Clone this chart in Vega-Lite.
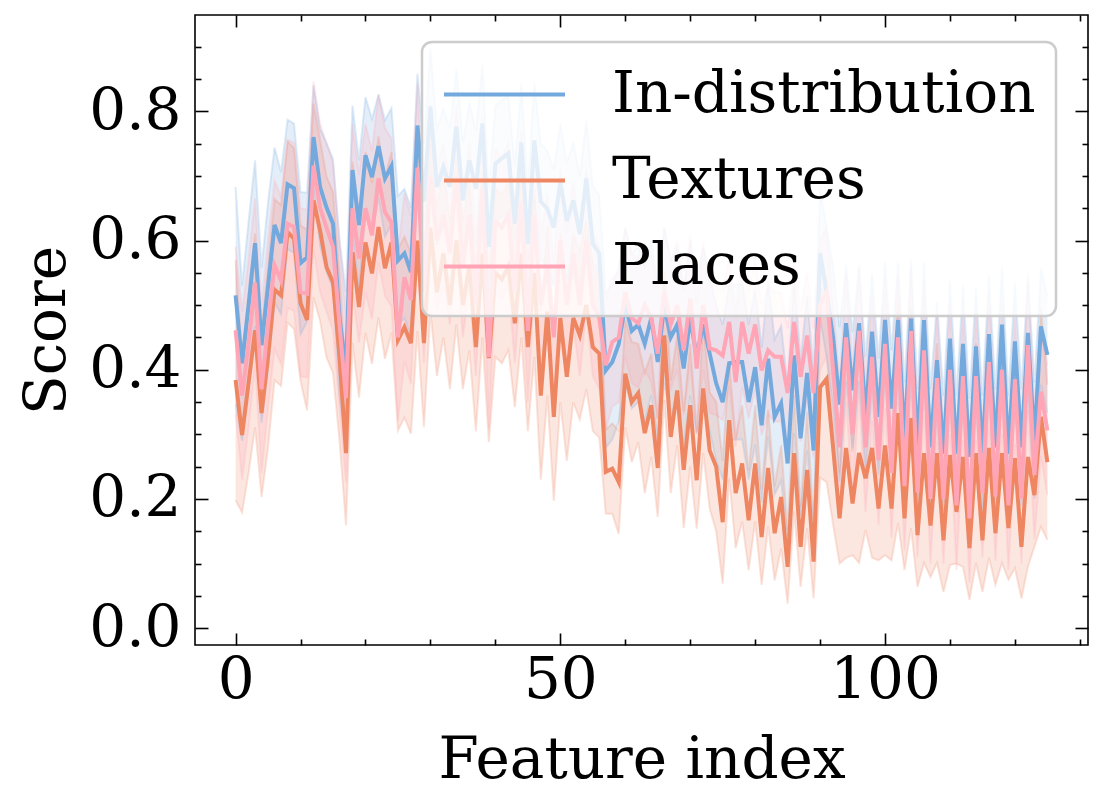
{
  "$schema": "https://vega.github.io/schema/vega-lite/v6.json",
  "width": 893,
  "height": 630,
  "autosize": {"type": "none"},
  "padding": {"left": 195, "top": 15, "right": 16, "bottom": 159},
  "background": "white",
  "config": {
    "font": "DejaVu Serif",
    "view": {"stroke": "black", "strokeWidth": 1.6},
    "axis": {
      "domain": false,
      "grid": false,
      "labelFont": "DejaVu Serif",
      "labelFontSize": 58,
      "labelColor": "black",
      "titleFont": "DejaVu Serif",
      "titleFontSize": 58,
      "titleFontWeight": "normal",
      "titleColor": "black",
      "tickColor": "black",
      "tickWidth": 1.6
    }
  },
  "data": {
    "values": [
      {"i":0,"s":"In-distribution","m":0.515,"e":0.168},{"i":1,"s":"In-distribution","m":0.41,"e":0.12},{"i":2,"s":"In-distribution","m":0.5,"e":0.13},{"i":3,"s":"In-distribution","m":0.596,"e":0.128},{"i":4,"s":"In-distribution","m":0.438,"e":0.12},{"i":5,"s":"In-distribution","m":0.53,"e":0.13},{"i":6,"s":"In-distribution","m":0.624,"e":0.12},{"i":7,"s":"In-distribution","m":0.596,"e":0.11},{"i":8,"s":"In-distribution","m":0.687,"e":0.1},{"i":9,"s":"In-distribution","m":0.681,"e":0.1},
      {"i":10,"s":"In-distribution","m":0.565,"e":0.11},{"i":11,"s":"In-distribution","m":0.574,"e":0.1},{"i":12,"s":"In-distribution","m":0.76,"e":0.08},{"i":13,"s":"In-distribution","m":0.683,"e":0.09},{"i":14,"s":"In-distribution","m":0.651,"e":0.1},{"i":15,"s":"In-distribution","m":0.626,"e":0.1},{"i":16,"s":"In-distribution","m":0.48,"e":0.12},{"i":17,"s":"In-distribution","m":0.4,"e":0.12},{"i":18,"s":"In-distribution","m":0.709,"e":0.1},{"i":19,"s":"In-distribution","m":0.624,"e":0.1},
      {"i":20,"s":"In-distribution","m":0.732,"e":0.09},{"i":21,"s":"In-distribution","m":0.698,"e":0.09},{"i":22,"s":"In-distribution","m":0.746,"e":0.08},{"i":23,"s":"In-distribution","m":0.696,"e":0.09},{"i":24,"s":"In-distribution","m":0.715,"e":0.09},{"i":25,"s":"In-distribution","m":0.569,"e":0.1},{"i":26,"s":"In-distribution","m":0.58,"e":0.1},{"i":27,"s":"In-distribution","m":0.551,"e":0.1},{"i":28,"s":"In-distribution","m":0.778,"e":0.08},{"i":29,"s":"In-distribution","m":0.66,"e":0.09},
      {"i":30,"s":"In-distribution","m":0.807,"e":0.09},{"i":31,"s":"In-distribution","m":0.683,"e":0.09},{"i":32,"s":"In-distribution","m":0.714,"e":0.09},{"i":33,"s":"In-distribution","m":0.683,"e":0.09},{"i":34,"s":"In-distribution","m":0.776,"e":0.09},{"i":35,"s":"In-distribution","m":0.662,"e":0.09},{"i":36,"s":"In-distribution","m":0.724,"e":0.09},{"i":37,"s":"In-distribution","m":0.68,"e":0.09},{"i":38,"s":"In-distribution","m":0.781,"e":0.09},{"i":39,"s":"In-distribution","m":0.59,"e":0.09},
      {"i":40,"s":"In-distribution","m":0.719,"e":0.09},{"i":41,"s":"In-distribution","m":0.727,"e":0.09},{"i":42,"s":"In-distribution","m":0.735,"e":0.09},{"i":43,"s":"In-distribution","m":0.626,"e":0.09},{"i":44,"s":"In-distribution","m":0.752,"e":0.09},{"i":45,"s":"In-distribution","m":0.595,"e":0.09},{"i":46,"s":"In-distribution","m":0.755,"e":0.09},{"i":47,"s":"In-distribution","m":0.66,"e":0.09},{"i":48,"s":"In-distribution","m":0.649,"e":0.09},{"i":49,"s":"In-distribution","m":0.62,"e":0.09},
      {"i":50,"s":"In-distribution","m":0.69,"e":0.09},{"i":51,"s":"In-distribution","m":0.63,"e":0.09},{"i":52,"s":"In-distribution","m":0.662,"e":0.09},{"i":53,"s":"In-distribution","m":0.61,"e":0.09},{"i":54,"s":"In-distribution","m":0.696,"e":0.09},{"i":55,"s":"In-distribution","m":0.595,"e":0.09},{"i":56,"s":"In-distribution","m":0.58,"e":0.09},{"i":57,"s":"In-distribution","m":0.399,"e":0.12},{"i":58,"s":"In-distribution","m":0.412,"e":0.12},{"i":59,"s":"In-distribution","m":0.44,"e":0.12},
      {"i":60,"s":"In-distribution","m":0.5,"e":0.12},{"i":61,"s":"In-distribution","m":0.46,"e":0.12},{"i":62,"s":"In-distribution","m":0.47,"e":0.12},{"i":63,"s":"In-distribution","m":0.44,"e":0.12},{"i":64,"s":"In-distribution","m":0.48,"e":0.12},{"i":65,"s":"In-distribution","m":0.412,"e":0.12},{"i":66,"s":"In-distribution","m":0.5,"e":0.12},{"i":67,"s":"In-distribution","m":0.45,"e":0.12},{"i":68,"s":"In-distribution","m":0.47,"e":0.12},{"i":69,"s":"In-distribution","m":0.402,"e":0.12},
      {"i":70,"s":"In-distribution","m":0.48,"e":0.12},{"i":71,"s":"In-distribution","m":0.42,"e":0.12},{"i":72,"s":"In-distribution","m":0.47,"e":0.12},{"i":73,"s":"In-distribution","m":0.425,"e":0.12},{"i":74,"s":"In-distribution","m":0.379,"e":0.12},{"i":75,"s":"In-distribution","m":0.35,"e":0.12},{"i":76,"s":"In-distribution","m":0.41,"e":0.12},{"i":77,"s":"In-distribution","m":0.412,"e":0.12},{"i":78,"s":"In-distribution","m":0.412,"e":0.12},{"i":79,"s":"In-distribution","m":0.35,"e":0.12},
      {"i":80,"s":"In-distribution","m":0.404,"e":0.12},{"i":81,"s":"In-distribution","m":0.314,"e":0.12},{"i":82,"s":"In-distribution","m":0.417,"e":0.12},{"i":83,"s":"In-distribution","m":0.327,"e":0.12},{"i":84,"s":"In-distribution","m":0.348,"e":0.12},{"i":85,"s":"In-distribution","m":0.255,"e":0.12},{"i":86,"s":"In-distribution","m":0.422,"e":0.12},{"i":87,"s":"In-distribution","m":0.294,"e":0.12},{"i":88,"s":"In-distribution","m":0.395,"e":0.12},{"i":89,"s":"In-distribution","m":0.275,"e":0.12},
      {"i":90,"s":"In-distribution","m":0.58,"e":0.1},{"i":91,"s":"In-distribution","m":0.52,"e":0.1},{"i":92,"s":"In-distribution","m":0.45,"e":0.11},{"i":93,"s":"In-distribution","m":0.346,"e":0.12},{"i":94,"s":"In-distribution","m":0.472,"e":0.09},{"i":95,"s":"In-distribution","m":0.368,"e":0.09},{"i":96,"s":"In-distribution","m":0.472,"e":0.09},{"i":97,"s":"In-distribution","m":0.33,"e":0.09},{"i":98,"s":"In-distribution","m":0.459,"e":0.09},{"i":99,"s":"In-distribution","m":0.327,"e":0.09},
      {"i":100,"s":"In-distribution","m":0.477,"e":0.09},{"i":101,"s":"In-distribution","m":0.34,"e":0.09},{"i":102,"s":"In-distribution","m":0.477,"e":0.09},{"i":103,"s":"In-distribution","m":0.29,"e":0.09},{"i":104,"s":"In-distribution","m":0.479,"e":0.09},{"i":105,"s":"In-distribution","m":0.28,"e":0.09},{"i":106,"s":"In-distribution","m":0.477,"e":0.09},{"i":107,"s":"In-distribution","m":0.28,"e":0.09},{"i":108,"s":"In-distribution","m":0.415,"e":0.09},{"i":109,"s":"In-distribution","m":0.27,"e":0.09},
      {"i":110,"s":"In-distribution","m":0.448,"e":0.09},{"i":111,"s":"In-distribution","m":0.27,"e":0.09},{"i":112,"s":"In-distribution","m":0.44,"e":0.09},{"i":113,"s":"In-distribution","m":0.265,"e":0.09},{"i":114,"s":"In-distribution","m":0.436,"e":0.09},{"i":115,"s":"In-distribution","m":0.27,"e":0.09},{"i":116,"s":"In-distribution","m":0.455,"e":0.09},{"i":117,"s":"In-distribution","m":0.28,"e":0.09},{"i":118,"s":"In-distribution","m":0.47,"e":0.09},{"i":119,"s":"In-distribution","m":0.27,"e":0.09},
      {"i":120,"s":"In-distribution","m":0.444,"e":0.09},{"i":121,"s":"In-distribution","m":0.28,"e":0.09},{"i":122,"s":"In-distribution","m":0.457,"e":0.09},{"i":123,"s":"In-distribution","m":0.29,"e":0.09},{"i":124,"s":"In-distribution","m":0.467,"e":0.09},{"i":125,"s":"In-distribution","m":0.423,"e":0.09},

      {"i":0,"s":"Textures","m":0.384,"e":0.186},{"i":1,"s":"Textures","m":0.299,"e":0.12},{"i":2,"s":"Textures","m":0.38,"e":0.14},{"i":3,"s":"Textures","m":0.461,"e":0.15},{"i":4,"s":"Textures","m":0.333,"e":0.13},{"i":5,"s":"Textures","m":0.42,"e":0.14},{"i":6,"s":"Textures","m":0.524,"e":0.14},{"i":7,"s":"Textures","m":0.515,"e":0.14},{"i":8,"s":"Textures","m":0.613,"e":0.14},{"i":9,"s":"Textures","m":0.603,"e":0.14},
      {"i":10,"s":"Textures","m":0.503,"e":0.12},{"i":11,"s":"Textures","m":0.477,"e":0.14},{"i":12,"s":"Textures","m":0.662,"e":0.15},{"i":13,"s":"Textures","m":0.616,"e":0.14},{"i":14,"s":"Textures","m":0.559,"e":0.14},{"i":15,"s":"Textures","m":0.535,"e":0.14},{"i":16,"s":"Textures","m":0.42,"e":0.13},{"i":17,"s":"Textures","m":0.271,"e":0.112},{"i":18,"s":"Textures","m":0.582,"e":0.14},{"i":19,"s":"Textures","m":0.497,"e":0.14},
      {"i":20,"s":"Textures","m":0.597,"e":0.14},{"i":21,"s":"Textures","m":0.549,"e":0.14},{"i":22,"s":"Textures","m":0.621,"e":0.14},{"i":23,"s":"Textures","m":0.557,"e":0.14},{"i":24,"s":"Textures","m":0.597,"e":0.14},{"i":25,"s":"Textures","m":0.446,"e":0.14},{"i":26,"s":"Textures","m":0.466,"e":0.14},{"i":27,"s":"Textures","m":0.441,"e":0.14},{"i":28,"s":"Textures","m":0.6,"e":0.14},{"i":29,"s":"Textures","m":0.441,"e":0.13},
      {"i":30,"s":"Textures","m":0.62,"e":0.13},{"i":31,"s":"Textures","m":0.52,"e":0.13},{"i":32,"s":"Textures","m":0.58,"e":0.13},{"i":33,"s":"Textures","m":0.5,"e":0.13},{"i":34,"s":"Textures","m":0.6,"e":0.13},{"i":35,"s":"Textures","m":0.5,"e":0.13},{"i":36,"s":"Textures","m":0.56,"e":0.13},{"i":37,"s":"Textures","m":0.435,"e":0.13},{"i":38,"s":"Textures","m":0.58,"e":0.13},{"i":39,"s":"Textures","m":0.418,"e":0.13},
      {"i":40,"s":"Textures","m":0.55,"e":0.13},{"i":41,"s":"Textures","m":0.54,"e":0.13},{"i":42,"s":"Textures","m":0.56,"e":0.13},{"i":43,"s":"Textures","m":0.472,"e":0.13},{"i":44,"s":"Textures","m":0.58,"e":0.13},{"i":45,"s":"Textures","m":0.435,"e":0.13},{"i":46,"s":"Textures","m":0.55,"e":0.13},{"i":47,"s":"Textures","m":0.36,"e":0.13},{"i":48,"s":"Textures","m":0.49,"e":0.13},{"i":49,"s":"Textures","m":0.327,"e":0.13},
      {"i":50,"s":"Textures","m":0.48,"e":0.13},{"i":51,"s":"Textures","m":0.389,"e":0.13},{"i":52,"s":"Textures","m":0.48,"e":0.13},{"i":53,"s":"Textures","m":0.453,"e":0.13},{"i":54,"s":"Textures","m":0.5,"e":0.13},{"i":55,"s":"Textures","m":0.435,"e":0.13},{"i":56,"s":"Textures","m":0.425,"e":0.13},{"i":57,"s":"Textures","m":0.242,"e":0.065},{"i":58,"s":"Textures","m":0.247,"e":0.07},{"i":59,"s":"Textures","m":0.226,"e":0.08},
      {"i":60,"s":"Textures","m":0.394,"e":0.083},{"i":61,"s":"Textures","m":0.35,"e":0.093},{"i":62,"s":"Textures","m":0.364,"e":0.076},{"i":63,"s":"Textures","m":0.302,"e":0.093},{"i":64,"s":"Textures","m":0.345,"e":0.08},{"i":65,"s":"Textures","m":0.248,"e":0.076},{"i":66,"s":"Textures","m":0.453,"e":0.1},{"i":67,"s":"Textures","m":0.296,"e":0.087},{"i":68,"s":"Textures","m":0.368,"e":0.085},{"i":69,"s":"Textures","m":0.245,"e":0.09},
      {"i":70,"s":"Textures","m":0.345,"e":0.095},{"i":71,"s":"Textures","m":0.229,"e":0.075},{"i":72,"s":"Textures","m":0.371,"e":0.1},{"i":73,"s":"Textures","m":0.275,"e":0.09},{"i":74,"s":"Textures","m":0.25,"e":0.1},{"i":75,"s":"Textures","m":0.164,"e":0.095},{"i":76,"s":"Textures","m":0.322,"e":0.09},{"i":77,"s":"Textures","m":0.209,"e":0.085},{"i":78,"s":"Textures","m":0.255,"e":0.09},{"i":79,"s":"Textures","m":0.167,"e":0.077},
      {"i":80,"s":"Textures","m":0.255,"e":0.09},{"i":81,"s":"Textures","m":0.141,"e":0.074},{"i":82,"s":"Textures","m":0.248,"e":0.09},{"i":83,"s":"Textures","m":0.147,"e":0.073},{"i":84,"s":"Textures","m":0.203,"e":0.08},{"i":85,"s":"Textures","m":0.095,"e":0.057},{"i":86,"s":"Textures","m":0.271,"e":0.09},{"i":87,"s":"Textures","m":0.126,"e":0.062},{"i":88,"s":"Textures","m":0.245,"e":0.09},{"i":89,"s":"Textures","m":0.103,"e":0.057},
      {"i":90,"s":"Textures","m":0.373,"e":0.14},{"i":91,"s":"Textures","m":0.386,"e":0.16},{"i":92,"s":"Textures","m":0.28,"e":0.12},{"i":93,"s":"Textures","m":0.17,"e":0.07},{"i":94,"s":"Textures","m":0.279,"e":0.17},{"i":95,"s":"Textures","m":0.193,"e":0.08},{"i":96,"s":"Textures","m":0.271,"e":0.17},{"i":97,"s":"Textures","m":0.232,"e":0.08},{"i":98,"s":"Textures","m":0.279,"e":0.17},{"i":99,"s":"Textures","m":0.185,"e":0.08},
      {"i":100,"s":"Textures","m":0.283,"e":0.17},{"i":101,"s":"Textures","m":0.185,"e":0.08},{"i":102,"s":"Textures","m":0.333,"e":0.17},{"i":103,"s":"Textures","m":0.17,"e":0.08},{"i":104,"s":"Textures","m":0.325,"e":0.17},{"i":105,"s":"Textures","m":0.144,"e":0.08},{"i":106,"s":"Textures","m":0.271,"e":0.17},{"i":107,"s":"Textures","m":0.159,"e":0.08},{"i":108,"s":"Textures","m":0.271,"e":0.17},{"i":109,"s":"Textures","m":0.136,"e":0.08},
      {"i":110,"s":"Textures","m":0.268,"e":0.17},{"i":111,"s":"Textures","m":0.18,"e":0.08},{"i":112,"s":"Textures","m":0.265,"e":0.17},{"i":113,"s":"Textures","m":0.124,"e":0.08},{"i":114,"s":"Textures","m":0.271,"e":0.17},{"i":115,"s":"Textures","m":0.136,"e":0.08},{"i":116,"s":"Textures","m":0.279,"e":0.17},{"i":117,"s":"Textures","m":0.147,"e":0.08},{"i":118,"s":"Textures","m":0.271,"e":0.17},{"i":119,"s":"Textures","m":0.155,"e":0.08},
      {"i":120,"s":"Textures","m":0.263,"e":0.17},{"i":121,"s":"Textures","m":0.126,"e":0.08},{"i":122,"s":"Textures","m":0.265,"e":0.17},{"i":123,"s":"Textures","m":0.206,"e":0.08},{"i":124,"s":"Textures","m":0.327,"e":0.17},{"i":125,"s":"Textures","m":0.257,"e":0.12},

      {"i":0,"s":"Places","m":0.461,"e":0.13},{"i":1,"s":"Places","m":0.36,"e":0.13},{"i":2,"s":"Places","m":0.44,"e":0.13},{"i":3,"s":"Places","m":0.535,"e":0.13},{"i":4,"s":"Places","m":0.37,"e":0.13},{"i":5,"s":"Places","m":0.47,"e":0.13},{"i":6,"s":"Places","m":0.562,"e":0.13},{"i":7,"s":"Places","m":0.538,"e":0.13},{"i":8,"s":"Places","m":0.626,"e":0.13},{"i":9,"s":"Places","m":0.621,"e":0.13},
      {"i":10,"s":"Places","m":0.52,"e":0.13},{"i":11,"s":"Places","m":0.518,"e":0.13},{"i":12,"s":"Places","m":0.716,"e":0.13},{"i":13,"s":"Places","m":0.651,"e":0.13},{"i":14,"s":"Places","m":0.62,"e":0.13},{"i":15,"s":"Places","m":0.59,"e":0.13},{"i":16,"s":"Places","m":0.47,"e":0.13},{"i":17,"s":"Places","m":0.356,"e":0.13},{"i":18,"s":"Places","m":0.65,"e":0.13},{"i":19,"s":"Places","m":0.572,"e":0.13},
      {"i":20,"s":"Places","m":0.65,"e":0.13},{"i":21,"s":"Places","m":0.608,"e":0.13},{"i":22,"s":"Places","m":0.696,"e":0.13},{"i":23,"s":"Places","m":0.644,"e":0.13},{"i":24,"s":"Places","m":0.628,"e":0.13},{"i":25,"s":"Places","m":0.45,"e":0.13},{"i":26,"s":"Places","m":0.543,"e":0.13},{"i":27,"s":"Places","m":0.508,"e":0.13},{"i":28,"s":"Places","m":0.713,"e":0.13},{"i":29,"s":"Places","m":0.52,"e":0.11},
      {"i":30,"s":"Places","m":0.7,"e":0.11},{"i":31,"s":"Places","m":0.6,"e":0.11},{"i":32,"s":"Places","m":0.64,"e":0.11},{"i":33,"s":"Places","m":0.58,"e":0.11},{"i":34,"s":"Places","m":0.7,"e":0.11},{"i":35,"s":"Places","m":0.56,"e":0.11},{"i":36,"s":"Places","m":0.64,"e":0.11},{"i":37,"s":"Places","m":0.5,"e":0.11},{"i":38,"s":"Places","m":0.68,"e":0.11},{"i":39,"s":"Places","m":0.42,"e":0.11},
      {"i":40,"s":"Places","m":0.63,"e":0.11},{"i":41,"s":"Places","m":0.62,"e":0.11},{"i":42,"s":"Places","m":0.64,"e":0.11},{"i":43,"s":"Places","m":0.52,"e":0.11},{"i":44,"s":"Places","m":0.66,"e":0.11},{"i":45,"s":"Places","m":0.46,"e":0.11},{"i":46,"s":"Places","m":0.64,"e":0.11},{"i":47,"s":"Places","m":0.5,"e":0.11},{"i":48,"s":"Places","m":0.56,"e":0.11},{"i":49,"s":"Places","m":0.45,"e":0.11},
      {"i":50,"s":"Places","m":0.6,"e":0.11},{"i":51,"s":"Places","m":0.5,"e":0.11},{"i":52,"s":"Places","m":0.58,"e":0.11},{"i":53,"s":"Places","m":0.5,"e":0.11},{"i":54,"s":"Places","m":0.6,"e":0.11},{"i":55,"s":"Places","m":0.5,"e":0.11},{"i":56,"s":"Places","m":0.48,"e":0.11},{"i":57,"s":"Places","m":0.407,"e":0.1},{"i":58,"s":"Places","m":0.443,"e":0.1},{"i":59,"s":"Places","m":0.45,"e":0.1},
      {"i":60,"s":"Places","m":0.52,"e":0.1},{"i":61,"s":"Places","m":0.48,"e":0.1},{"i":62,"s":"Places","m":0.472,"e":0.1},{"i":63,"s":"Places","m":0.5,"e":0.1},{"i":64,"s":"Places","m":0.48,"e":0.1},{"i":65,"s":"Places","m":0.425,"e":0.1},{"i":66,"s":"Places","m":0.52,"e":0.1},{"i":67,"s":"Places","m":0.47,"e":0.1},{"i":68,"s":"Places","m":0.5,"e":0.1},{"i":69,"s":"Places","m":0.43,"e":0.1},
      {"i":70,"s":"Places","m":0.51,"e":0.1},{"i":71,"s":"Places","m":0.402,"e":0.1},{"i":72,"s":"Places","m":0.5,"e":0.1},{"i":73,"s":"Places","m":0.433,"e":0.1},{"i":74,"s":"Places","m":0.43,"e":0.1},{"i":75,"s":"Places","m":0.422,"e":0.1},{"i":76,"s":"Places","m":0.474,"e":0.1},{"i":77,"s":"Places","m":0.381,"e":0.1},{"i":78,"s":"Places","m":0.474,"e":0.1},{"i":79,"s":"Places","m":0.425,"e":0.1},
      {"i":80,"s":"Places","m":0.47,"e":0.1},{"i":81,"s":"Places","m":0.399,"e":0.1},{"i":82,"s":"Places","m":0.43,"e":0.1},{"i":83,"s":"Places","m":0.42,"e":0.1},{"i":84,"s":"Places","m":0.42,"e":0.1},{"i":85,"s":"Places","m":0.364,"e":0.1},{"i":86,"s":"Places","m":0.474,"e":0.1},{"i":87,"s":"Places","m":0.389,"e":0.1},{"i":88,"s":"Places","m":0.453,"e":0.1},{"i":89,"s":"Places","m":0.364,"e":0.1},
      {"i":90,"s":"Places","m":0.5,"e":0.1},{"i":91,"s":"Places","m":0.52,"e":0.1},{"i":92,"s":"Places","m":0.4,"e":0.1},{"i":93,"s":"Places","m":0.28,"e":0.1},{"i":94,"s":"Places","m":0.45,"e":0.1},{"i":95,"s":"Places","m":0.3,"e":0.1},{"i":96,"s":"Places","m":0.46,"e":0.1},{"i":97,"s":"Places","m":0.28,"e":0.1},{"i":98,"s":"Places","m":0.42,"e":0.1},{"i":99,"s":"Places","m":0.26,"e":0.1},
      {"i":100,"s":"Places","m":0.44,"e":0.1},{"i":101,"s":"Places","m":0.24,"e":0.1},{"i":102,"s":"Places","m":0.45,"e":0.1},{"i":103,"s":"Places","m":0.22,"e":0.1},{"i":104,"s":"Places","m":0.46,"e":0.1},{"i":105,"s":"Places","m":0.21,"e":0.1},{"i":106,"s":"Places","m":0.43,"e":0.1},{"i":107,"s":"Places","m":0.2,"e":0.1},{"i":108,"s":"Places","m":0.387,"e":0.1},{"i":109,"s":"Places","m":0.2,"e":0.1},
      {"i":110,"s":"Places","m":0.4,"e":0.1},{"i":111,"s":"Places","m":0.19,"e":0.1},{"i":112,"s":"Places","m":0.39,"e":0.1},{"i":113,"s":"Places","m":0.17,"e":0.1},{"i":114,"s":"Places","m":0.39,"e":0.1},{"i":115,"s":"Places","m":0.209,"e":0.1},{"i":116,"s":"Places","m":0.412,"e":0.1},{"i":117,"s":"Places","m":0.204,"e":0.1},{"i":118,"s":"Places","m":0.4,"e":0.1},{"i":119,"s":"Places","m":0.19,"e":0.1},
      {"i":120,"s":"Places","m":0.385,"e":0.1},{"i":121,"s":"Places","m":0.2,"e":0.1},{"i":122,"s":"Places","m":0.438,"e":0.1},{"i":123,"s":"Places","m":0.237,"e":0.1},{"i":124,"s":"Places","m":0.366,"e":0.1},{"i":125,"s":"Places","m":0.306,"e":0.1}
    ]
  },
  "encoding": {
    "color": {
      "field": "s",
      "type": "nominal",
      "scale": {
        "domain": ["In-distribution", "Textures", "Places"],
        "range": ["#74a9de", "#ef8662", "#ffa5b5"]
      },
      "legend": {
        "orient": "none",
        "legendX": 227,
        "legendY": 27,
        "title": null,
        "symbolType": "M-2,0L2,0",
        "symbolSize": 3660,
        "symbolStrokeWidth": 4,
        "symbolOpacity": 1,
        "symbolOffset": 30,
        "labelFont": "DejaVu Serif",
        "labelFontSize": 58,
        "labelColor": "black",
        "labelOffset": 75,
        "labelLimit": 0,
        "padding": 20,
        "rowPadding": 24,
        "fillColor": "rgba(255,255,255,0.8)",
        "strokeColor": "#cccccc",
        "cornerRadius": 10,
        "encode": {"legend": {"update": {"strokeWidth": {"value": 2.5}}}}
      }
    }
  },
  "layer": [
    {
      "mark": {
        "type": "errorband",
        "band": {"opacity": 0.2},
        "borders": {"opacity": 0.22, "strokeWidth": 2}
      },
      "encoding": {
        "x": {
          "field": "i",
          "type": "quantitative",
          "scale": {"domain": [-6.25, 131.25], "nice": false, "zero": false},
          "axis": {
            "orient": "bottom",
            "title": "Feature index",
            "values": [0, 10, 20, 30, 40, 50, 60, 70, 80, 90, 100, 110, 120, 130],
            "labelExpr": "datum.value % 50 === 0 ? datum.label : ''",
            "tickSize": {"condition": {"test": "datum.value % 50 === 0", "value": -12}, "value": -6},
            "labelPadding": 18,
            "titleBaseline": "alphabetic",
            "titleY": 132
          }
        },
        "y": {
          "field": "m",
          "type": "quantitative",
          "scale": {"domain": [-0.026, 0.949], "nice": false, "zero": false},
          "axis": {
            "orient": "left",
            "title": "Score",
            "values": [0, 0.05, 0.1, 0.15, 0.2, 0.25, 0.3, 0.35, 0.4, 0.45, 0.5, 0.55, 0.6, 0.65, 0.7, 0.75, 0.8, 0.85, 0.9],
            "labelExpr": "abs(datum.value * 5 - round(datum.value * 5)) < 0.001 ? format(datum.value, '.1f') : ''",
            "tickSize": {"condition": {"test": "abs(datum.value * 5 - round(datum.value * 5)) < 0.001", "value": -13}, "value": -6},
            "labelPadding": 27,
            "titleBaseline": "alphabetic",
            "titleX": -131
          }
        },
        "yError": {"field": "e"}
      }
    },
    {
      "mark": {"type": "line", "strokeWidth": 4},
      "encoding": {
        "x": {
          "field": "i",
          "type": "quantitative",
          "axis": {
            "orient": "top",
            "title": null,
            "labels": false,
            "values": [0, 10, 20, 30, 40, 50, 60, 70, 80, 90, 100, 110, 120, 130],
            "tickSize": {"condition": {"test": "datum.value % 50 === 0", "value": -12}, "value": -6}
          }
        },
        "y": {
          "field": "m",
          "type": "quantitative",
          "axis": {
            "orient": "right",
            "title": null,
            "labels": false,
            "values": [0, 0.05, 0.1, 0.15, 0.2, 0.25, 0.3, 0.35, 0.4, 0.45, 0.5, 0.55, 0.6, 0.65, 0.7, 0.75, 0.8, 0.85, 0.9],
            "tickSize": {"condition": {"test": "abs(datum.value * 5 - round(datum.value * 5)) < 0.001", "value": -13}, "value": -6}
          }
        }
      }
    }
  ]
}
